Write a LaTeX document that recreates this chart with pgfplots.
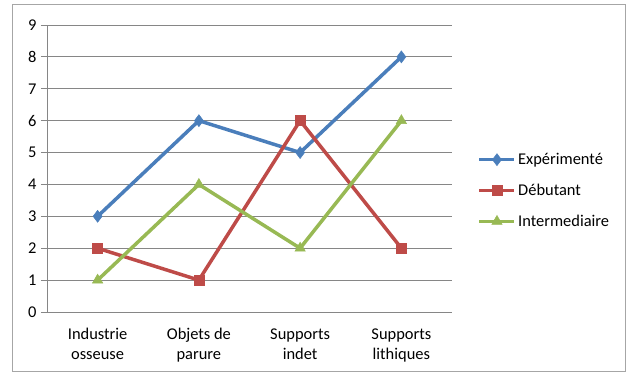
\documentclass[border=0pt]{standalone}
\usepackage{pgfplots}
\pgfplotsset{compat=1.18}
\usepackage{fontspec}
\setmainfont{Carlito}
\definecolor{cblue}{HTML}{4A7EBB}
\definecolor{cred}{HTML}{BE4B48}
\definecolor{cgreen}{HTML}{98B954}
\definecolor{cgrid}{HTML}{868686}
\begin{document}
\begin{tikzpicture}
\useasboundingbox (0,0) rectangle (632bp,376bp);
\draw[color=black!35, line width=1bp] (12bp,4bp) rectangle (625bp,371bp);
\begin{axis}[
  at={(47bp,64bp)}, anchor=south west,
  scale only axis, width=405bp, height=287bp,
  xmin=-0.5, xmax=3.5, ymin=0, ymax=9,
  xtick={0,1,2,3},
  xticklabels={{Industrie\\osseuse},{Objets de\\parure},{Supports\\indet},{Supports\\lithiques}},
  xticklabel style={align=center, font=\fontsize{16.5}{20}\selectfont, yshift=-7bp},
  x tick style={draw=none},
  extra x ticks={-0.5,0.5,1.5,2.5,3.5},
  extra x tick labels={},
  extra x tick style={grid=none, tick style={draw=cgrid, line width=0.8bp}, major tick length=6bp, tick align=outside},
  ytick={0,1,...,9},
  yticklabel style={font=\fontsize{16.5}{18}\selectfont, xshift=-1bp},
  /pgf/number format/assume math mode=true,
  ymajorgrids, grid style={cgrid, line width=0.8bp},
  axis x line=bottom, axis y line=left,
  axis line style={cgrid, line width=0.8bp, -},
  y tick style={cgrid, line width=0.8bp},
  major tick length=6bp, tick align=outside,
  legend style={at={(1.063,0.423)}, anchor=west, draw=none, font=\fontsize{16.5}{18}\selectfont, row sep=14bp, inner sep=0pt},
  legend cell align=left,
  legend image code/.code={\draw[mark repeat=2,mark phase=2,#1] plot coordinates {(0bp,0bp) (17.5bp,0bp) (35bp,0bp)};},
  every axis plot/.append style={line width=3.5bp},
]
\addplot[cblue, mark=diamond*, mark size=6bp, mark options={line width=0.5bp}] coordinates {(0,3) (1,6) (2,5) (3,8)};
\addlegendentry{Expérimenté}
\addplot[cred, mark=square*, mark size=5bp, mark options={line width=0.5bp}] coordinates {(0,2) (1,1) (2,6) (3,2)};
\addlegendentry{Débutant}
\addplot[cgreen, mark=triangle*, mark size=6bp, mark options={line width=0.5bp}] coordinates {(0,1) (1,4) (2,2) (3,6)};
\addlegendentry{Intermediaire}
\end{axis}
\end{tikzpicture}
\end{document}
